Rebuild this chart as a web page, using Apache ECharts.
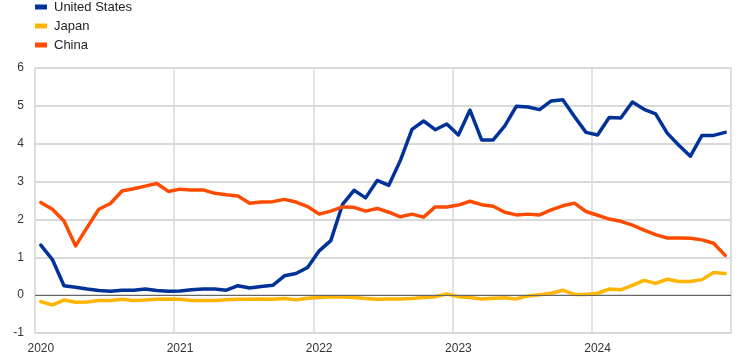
<!DOCTYPE html>
<html>
<head>
<meta charset="utf-8">
<script src="https://cdn.jsdelivr.net/npm/echarts@6/dist/echarts.min.js"></script>
<style>
html,body{margin:0;padding:0;background:#fff;}
#chart{width:744px;height:364px;}
</style>
</head>
<body>
<div id="chart"></div>
<script>
const years = ['2020', '2021', '2022', '2023', '2024'];
const months = ['01','02','03','04','05','06','07','08','09','10','11','12'];
const categories = [];
years.forEach(y => months.forEach(m => categories.push(y + '-' + m)));

const seriesNames = ['United States', 'Japan', 'China'];

const unitedStates = [1.32, 0.94, 0.25, 0.21, 0.16, 0.12, 0.10, 0.13, 0.13, 0.16,
  0.12, 0.10, 0.11, 0.14, 0.16, 0.16, 0.13, 0.25, 0.19, 0.23,
  0.26, 0.51, 0.57, 0.73, 1.17, 1.44, 2.39, 2.77, 2.57, 3.03,
  2.90, 3.56, 4.38, 4.60, 4.37, 4.52, 4.23, 4.89, 4.10, 4.10,
  4.47, 4.99, 4.97, 4.90, 5.13, 5.16, 4.72, 4.30, 4.23, 4.69,
  4.68, 5.10, 4.91, 4.79, 4.28, 3.96, 3.67, 4.22, 4.22, 4.30];

const japan = [-0.17, -0.26, -0.13, -0.19, -0.18, -0.14, -0.14, -0.11, -0.14, -0.13,
  -0.11, -0.10, -0.11, -0.14, -0.14, -0.14, -0.12, -0.11, -0.11, -0.10,
  -0.11, -0.09, -0.12, -0.08, -0.06, -0.04, -0.05, -0.06, -0.09, -0.11,
  -0.10, -0.10, -0.09, -0.06, -0.04, 0.03, -0.04, -0.06, -0.10, -0.08,
  -0.07, -0.10, -0.02, 0.01, 0.05, 0.13, 0.02, 0.02, 0.05, 0.16,
  0.14, 0.26, 0.39, 0.31, 0.42, 0.36, 0.36, 0.41, 0.60, 0.57];

const china = [2.45, 2.27, 1.96, 1.30, 1.79, 2.27, 2.42, 2.75, 2.81, 2.88,
  2.95, 2.74, 2.80, 2.78, 2.78, 2.69, 2.65, 2.62, 2.43, 2.46,
  2.47, 2.53, 2.46, 2.34, 2.14, 2.22, 2.33, 2.32, 2.22, 2.29,
  2.19, 2.07, 2.14, 2.06, 2.33, 2.33, 2.38, 2.48, 2.39, 2.35,
  2.19, 2.12, 2.14, 2.12, 2.25, 2.36, 2.43, 2.21, 2.11, 2.01,
  1.95, 1.85, 1.72, 1.60, 1.51, 1.51, 1.50, 1.46, 1.37, 1.05];

const colors = ['#003299', '#ffb400', '#ff4b00'];
const FONT = 'Liberation Sans, Arial, sans-serif';

const chart = echarts.init(document.getElementById('chart'), null, {renderer: 'canvas'});

function lineSeries(name, data, color, extra) {
  return Object.assign({
    name: name,
    type: 'line',
    data: data,
    symbol: 'none',
    smooth: false,
    lineStyle: {color: color, width: 3.5, cap: 'round', join: 'round'},
    itemStyle: {color: color},
    emphasis: {disabled: true},
    animation: false
  }, extra || {});
}

chart.setOption({
  animation: false,
  textStyle: {fontFamily: FONT},
  legend: {
    orient: 'vertical',
    left: 35,
    top: 0,
    padding: 0,
    itemWidth: 12,
    itemHeight: 5,
    itemGap: 5,
    icon: 'rect',
    data: seriesNames,
    textStyle: {fontFamily: FONT, fontSize: 13, color: '#222', lineHeight: 14, padding: [0, 0, 0, 2]}
  },
  grid: {
    left: 35, right: 13, top: 68, bottom: 31,
    show: true, borderColor: '#d9d9d9', borderWidth: 1
  },
  xAxis: {
    type: 'category',
    data: categories,
    boundaryGap: true,
    axisLine: {show: false, onZero: false},
    axisTick: {show: false},
    axisLabel: {
      interval: (i) => i % 12 === 0,
      formatter: (v) => v.slice(0, 4),
      fontFamily: FONT, fontSize: 12, color: '#333', margin: 10
    },
    splitLine: {show: true, interval: 11, lineStyle: {color: '#d9d9d9', width: 1.5}}
  },
  yAxis: {
    type: 'value',
    min: -1, max: 6, interval: 1,
    axisLine: {show: false},
    axisTick: {show: false},
    axisLabel: {fontFamily: FONT, fontSize: 12, color: '#333', margin: 11},
    splitLine: {show: true, lineStyle: {color: '#d9d9d9', width: 2}}
  },
  series: [
    lineSeries(seriesNames[0], unitedStates, colors[0], {
      markLine: {
        silent: true,
        symbol: 'none',
        label: {show: false},
        animation: false,
        lineStyle: {color: '#666', width: 1, type: 'solid'},
        data: [{yAxis: 0}]
      }
    }),
    lineSeries(seriesNames[1], japan, colors[1]),
    lineSeries(seriesNames[2], china, colors[2])
  ]
});
</script>
</body>
</html>
